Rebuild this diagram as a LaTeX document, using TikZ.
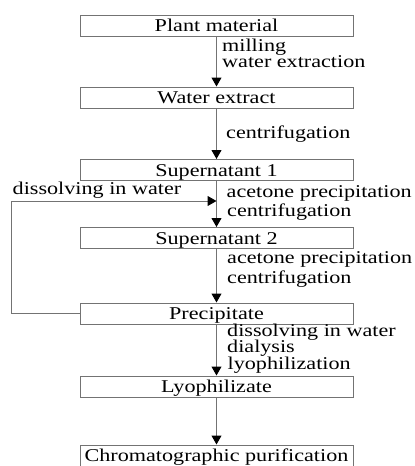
\documentclass[tikz,border=0pt]{standalone}
\usepackage{fontspec}
\setmainfont{Liberation Serif}[FakeStretch=1.23]
\usetikzlibrary{arrows.meta}
\definecolor{linegray}{gray}{0.45}
\tikzset{
  box/.style={draw=linegray, line width=1pt, minimum width=273pt, minimum height=21pt,
    inner sep=0pt, text height=14pt, text depth=2pt, font=\fontsize{18}{18}\selectfont},
  lbl/.style={anchor=base west, inner sep=0pt, text height=11pt, text depth=3pt,
    font=\fontsize{18}{18}\selectfont},
  arr/.style={draw=linegray, line width=1pt, -{Triangle[length=9pt,width=10pt,color=black]}}
}
\begin{document}
\begin{tikzpicture}[x=1pt,y=-1pt]
\useasboundingbox (0,0) rectangle (415,466);
\node[box] (b1) at (216.5,25.5) {Plant material};
\node[box] (b2) at (216.5,97.5) {Water extract};
\node[box] (b3) at (216.5,170) {Supernatant 1};
\node[box] (b4) at (216.5,238) {Supernatant 2};
\node[box] (b5) at (216.5,313.5) {Precipitate};
\node[box] (b6) at (216.5,386.5) {Lyophilizate};
\node[box] (b7) at (216.5,455.5) {Chromatographic purification};
\draw[arr] (b1) -- (b2);
\draw[arr] (b2) -- (b3);
\draw[arr] (b3) -- (b4);
\draw[arr] (b4) -- (b5);
\draw[arr] (b5) -- (b6);
\draw[arr] (b6) -- (b7);
\coordinate (j) at (216.5,201);
\draw[arr] (b5.west) -- ++(-68,0) |- (j);
\node[lbl] (t1) at (222,51) {milling};
\node[lbl] (t2) at (222,67.5) {water extraction};
\node[lbl] (t3) at (226,138) {centrifugation};
\node[lbl] (t4) at (12.5,194) {dissolving in water};
\node[lbl] (t5) at (226.5,197) {acetone precipitation};
\node[lbl] (t6) at (227,216) {centrifugation};
\node[lbl] (t7) at (227,263) {acetone precipitation};
\node[lbl] (t8) at (227,283) {centrifugation};
\node[lbl] (t9) at (227,336) {dissolving in water};
\node[lbl] (t10) at (227,352.5) {dialysis};
\node[lbl] (t11) at (227.5,369) {lyophilization};
\end{tikzpicture}
\end{document}
